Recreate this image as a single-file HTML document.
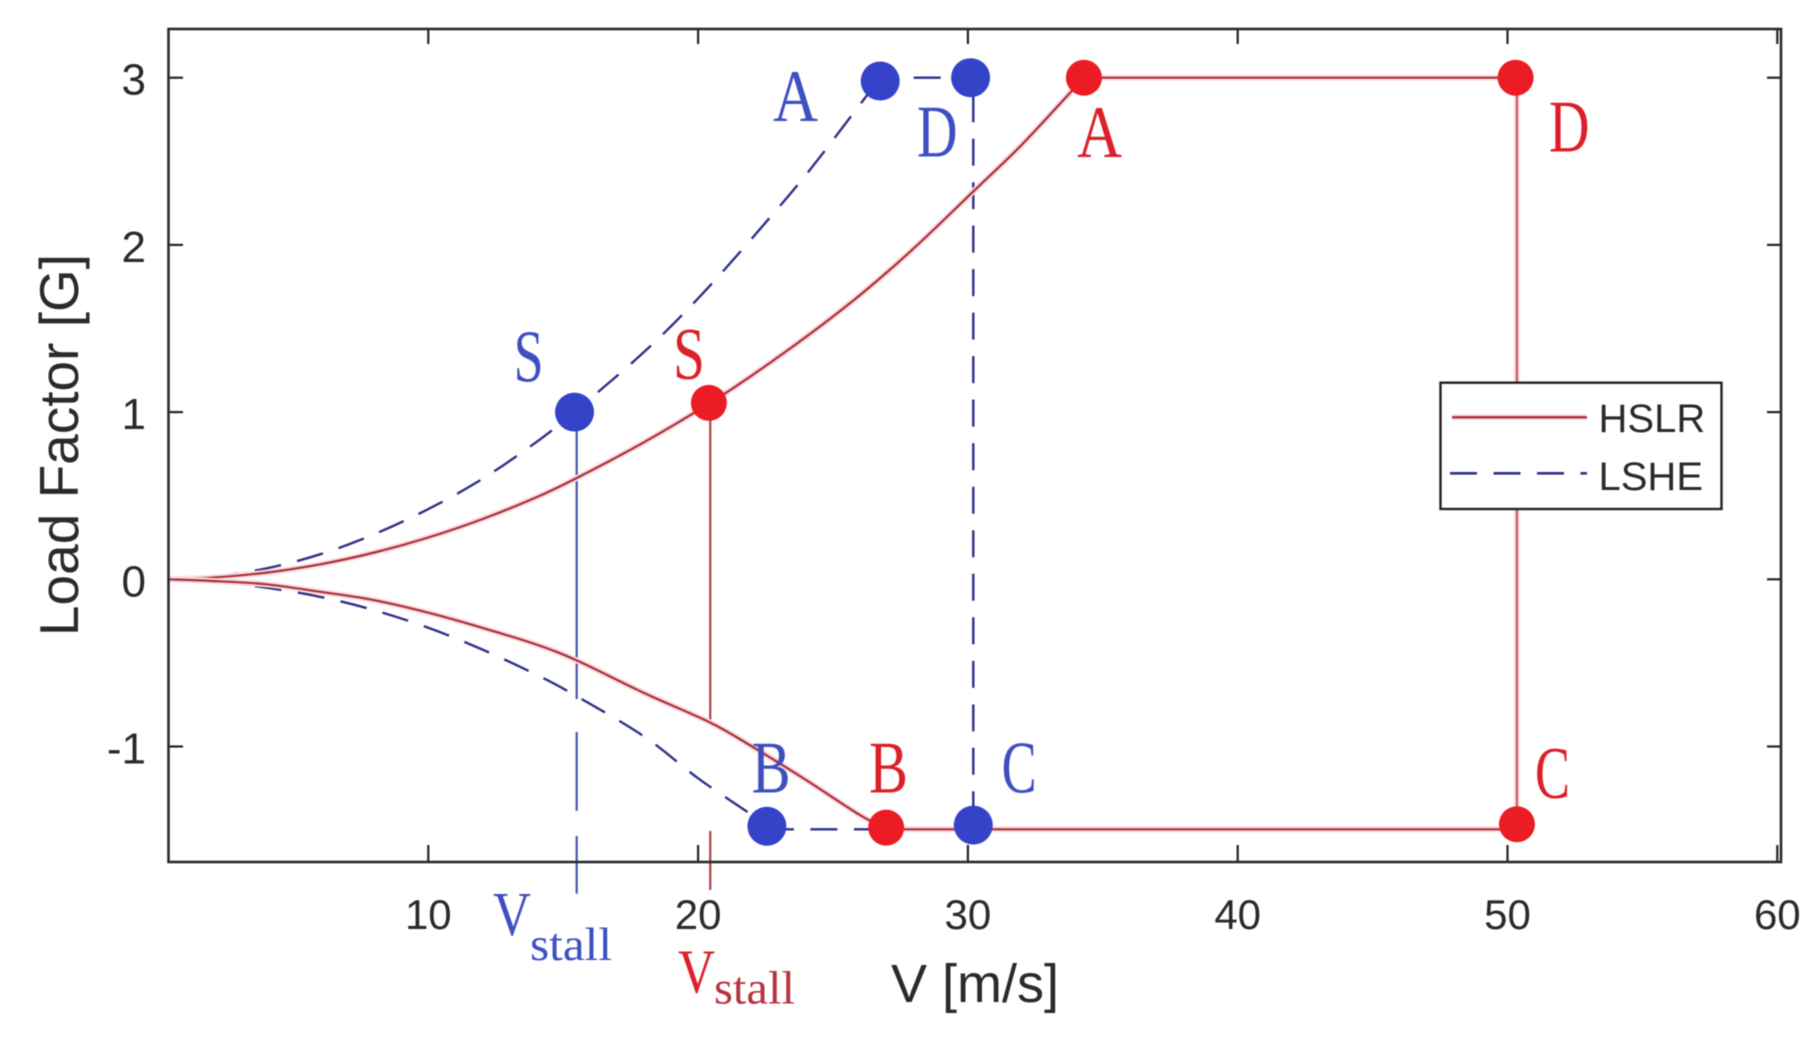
<!DOCTYPE html>
<html lang="en">
<head>
<meta charset="utf-8">
<title>Load Factor vs Velocity: V-n Diagram</title>
<style>
  html, body { margin: 0; padding: 0; background: #fff; }
  body { width: 1819px; height: 1044px; overflow: hidden; }
  svg { display: block; filter: blur(0.55px); }
  text { font-family: "Liberation Sans", sans-serif; fill: #2a2a2a; }
  .note { font-family: "Liberation Serif", serif; }
  .bl { fill: #3f4fc0; }
  .rd { fill: #dc2029; }
  .halo { fill: none; stroke: #fbdcdc; stroke-width: 6; stroke-linejoin: round; }
  .red-line { fill: none; stroke: #a8303c; stroke-width: 2.2; stroke-linejoin: round; }
  .red-side { fill: none; stroke: #c8505a; stroke-width: 2; }
  .blue-line { fill: none; stroke: #2e3088; stroke-width: 2.4; stroke-dasharray: 27 16.5; }
  .axis-tick { stroke: #222; stroke-width: 2.2; }
</style>
</head>
<body>
<svg id="chart" width="1819" height="1044" viewBox="0 0 1819 1044" xmlns="http://www.w3.org/2000/svg">
  <rect x="0" y="0" width="1819" height="1044" fill="#fff"/>
  <g id="ticks"></g>
  <g id="series"></g>
  <rect x="168.5" y="29" width="1612.5" height="833" fill="none" stroke="#2a2a2a" stroke-width="2.6"/>
  <g id="markers"></g>
  <g id="tick-labels"></g>

  <text x="78" y="445" font-size="55" text-anchor="middle" transform="rotate(-90 78 445)">Load Factor [G]</text>
  <text x="891" y="1002" font-size="54">V [m/s]</text>

  <g font-size="74">
    <text class="note bl" x="773" y="121" textLength="45" lengthAdjust="spacingAndGlyphs">A</text>
    <text class="note bl" x="513.6" y="381.7" textLength="30" lengthAdjust="spacingAndGlyphs">S</text>
    <text class="note rd" x="673" y="379" textLength="32" lengthAdjust="spacingAndGlyphs">S</text>
    <text class="note bl" x="917" y="156.7" textLength="40.5" lengthAdjust="spacingAndGlyphs">D</text>
    <text class="note rd" x="1077" y="157" textLength="45" lengthAdjust="spacingAndGlyphs">A</text>
    <text class="note rd" x="1549" y="151.7" textLength="40.5" lengthAdjust="spacingAndGlyphs">D</text>
    <text class="note bl" x="751.6" y="792.7" textLength="39" lengthAdjust="spacingAndGlyphs">B</text>
    <text class="note rd" x="869" y="792.7" textLength="39" lengthAdjust="spacingAndGlyphs">B</text>
    <text class="note bl" x="1001.6" y="792.7" textLength="35" lengthAdjust="spacingAndGlyphs">C</text>
    <text class="note rd" x="1535" y="798" textLength="35" lengthAdjust="spacingAndGlyphs">C</text>
  </g>

  <g>
    <text class="note bl" x="493" y="935" font-size="62" textLength="38" lengthAdjust="spacingAndGlyphs">V</text>
    <text class="note bl" x="530" y="960" font-size="47" textLength="82" lengthAdjust="spacingAndGlyphs">stall</text>
  </g>
  <g>
    <text class="note rd" x="678" y="992.7" font-size="62" textLength="37" lengthAdjust="spacingAndGlyphs">V</text>
    <text class="note" style="fill:#b5343f" x="714" y="1003.7" font-size="47" textLength="81" lengthAdjust="spacingAndGlyphs">stall</text>
  </g>

  <g>
    <rect x="1440.5" y="382.7" width="281" height="126.3" fill="#fff" stroke="#222" stroke-width="2.4"/>
    <line x1="1452" y1="417.3" x2="1587" y2="417.3" stroke="#fbdcdc" stroke-width="6"/>
    <line x1="1452" y1="417.3" x2="1587" y2="417.3" stroke="#a8303c" stroke-width="2.4"/>
    <line x1="1450" y1="473.3" x2="1587" y2="473.3" stroke="#2e3088" stroke-width="2.6" stroke-dasharray="27 16.5"/>
    <text x="1598.5" y="432" font-size="40">HSLR</text>
    <text x="1598.5" y="490" font-size="40">LSHE</text>
  </g>
</svg>
<script>
// Axis tick values
const xTickValues = [10, 20, 30, 40, 50, 60];
const yTickValues = [3, 2, 1, 0, -1];

// HSLR envelope
const hslrUpperV = [0.36, 2, 4, 6, 8, 10, 12, 14, 15.5, 18, 20.4, 22, 24, 26, 28, 30.2, 32, 34.3];
const hslrUpperG = [0, 0.01, 0.04, 0.09, 0.16, 0.25, 0.36, 0.49, 0.606, 0.82, 1.05, 1.22, 1.45, 1.70, 1.98, 2.32, 2.60, 3.0];
const hslrLowerV = [0.36, 2, 4, 6, 8, 10, 12, 14, 15.5, 18, 20.4, 22, 24, 26, 26.97];
const hslrLowerG = [0, -0.01, -0.03, -0.075, -0.125, -0.2, -0.29, -0.39, -0.485, -0.68, -0.853, -1.0, -1.2, -1.41, -1.49];
const hslrTopV = [34.3, 50.35];
const hslrTopG = [3.0, 3.0];
const hslrSideV = [50.35, 50.35];
const hslrSideG = [3.0, -1.495];
const hslrBaseV = [26.97, 50.35];
const hslrBaseG = [-1.495, -1.495];

// LSHE envelope
const lsheUpperV = [0.36, 2, 4, 6, 8, 10, 12, 14, 15.4, 18, 20, 22, 24, 26, 26.75];
const lsheUpperG = [0, 0.015, 0.065, 0.15, 0.27, 0.42, 0.6, 0.82, 1.0, 1.36, 1.68, 2.04, 2.42, 2.84, 3.0];
const lsheTopV = [26.75, 30.2];
const lsheTopG = [3.0, 3.0];
const lsheSideV = [30.2, 30.2];
const lsheSideG = [3.0, -1.47];
const lsheLowerV = [0.36, 2, 4, 6, 8, 10, 12, 14, 15.4, 18, 20, 22, 22.55];
const lsheLowerG = [0, -0.01, -0.05, -0.105, -0.185, -0.29, -0.42, -0.57, -0.69, -0.94, -1.19, -1.41, -1.477];
const lsheBaseV = [22.55, 30.2];
const lsheBaseG = [-1.495, -1.495];

// Marker points (S, A, D, C, B)
const hslrPointV = [20.4, 34.3, 50.3, 50.35, 26.97];
const hslrPointG = [1.055, 3.0, 3.0, -1.465, -1.485];
const lshePointV = [15.42, 26.75, 30.1, 30.2, 22.55];
const lshePointG = [1.0, 2.98, 3.0, -1.47, -1.477];

// Stall-speed droplines: V value and the G start/end of each visible segment
const hslrStallV = 20.45;
const hslrStallStart = [1.055, -1.505];
const hslrStallEnd = [-0.853, -1.858];
const lsheStallV = 15.5;
const lsheStallStart = [1.0, -0.913, -1.535];
const lsheStallEnd = [-0.716, -1.385, -1.88];

const SVG_NS = 'http://www.w3.org/2000/svg';
function xPos(v) { return 428.3 + (v - 10) * 26.98; }
function yPos(g) { return 579.3 - g * 167.2; }
function make(tag, parentId) {
  const el = document.createElementNS(SVG_NS, tag);
  document.getElementById(parentId).appendChild(el);
  return el;
}
// Catmull-Rom smoothing through the data points, so curves have no kinks
function pathFrom(vs, gs) {
  const pts = vs.map(function (v, i) { return [xPos(v), yPos(gs[i])]; });
  let d = 'M' + pts[0][0].toFixed(1) + ' ' + pts[0][1].toFixed(1);
  for (let i = 0; i < pts.length - 1; i++) {
    const p0 = pts[Math.max(i - 1, 0)];
    const p1 = pts[i];
    const p2 = pts[i + 1];
    const p3 = pts[Math.min(i + 2, pts.length - 1)];
    const c1x = p1[0] + (p2[0] - p0[0]) / 6;
    const c1y = p1[1] + (p2[1] - p0[1]) / 6;
    const c2x = p2[0] - (p3[0] - p1[0]) / 6;
    const c2y = p2[1] - (p3[1] - p1[1]) / 6;
    d += ' C' + c1x.toFixed(1) + ' ' + c1y.toFixed(1) + ' ' + c2x.toFixed(1) + ' ' + c2y.toFixed(1) + ' ' + p2[0].toFixed(1) + ' ' + p2[1].toFixed(1);
  }
  return d;
}
function drawRed(vs, gs, name, lineClass) {
  const halo = make('path', 'series');
  halo.setAttribute('d', pathFrom(vs, gs));
  halo.setAttribute('class', 'halo');
  
  
  const line = make('path', 'series');
  line.setAttribute('d', pathFrom(vs, gs));
  line.setAttribute('class', lineClass);
  
  
}
function drawBlue(vs, gs, name, offset) {
  const line = make('path', 'series');
  line.setAttribute('d', pathFrom(vs, gs));
  line.setAttribute('class', 'blue-line');
  line.setAttribute('stroke-dashoffset', offset);
  
  
}
function drawDrop(v, starts, ends, color, name) {
  starts.forEach(function (g0, i) {
    const seg = make('line', 'series');
    seg.setAttribute('x1', xPos(v));
    seg.setAttribute('x2', xPos(v));
    seg.setAttribute('y1', yPos(g0));
    seg.setAttribute('y2', yPos(ends[i]));
    seg.setAttribute('stroke', color);
    seg.setAttribute('stroke-width', '2.2');
    
    
  });
}
function drawMarkers(vs, gs, r, color, name) {
  vs.forEach(function (v, i) {
    const dot = make('circle', 'markers');
    dot.setAttribute('cx', xPos(v));
    dot.setAttribute('cy', yPos(gs[i]));
    dot.setAttribute('r', r);
    dot.setAttribute('fill', color);
    
    
  });
}

// Ticks and tick labels
xTickValues.forEach(function (t) {
  const bottomTick = make('line', 'ticks');
  bottomTick.setAttribute('x1', xPos(t));
  bottomTick.setAttribute('x2', xPos(t));
  bottomTick.setAttribute('y1', 862);
  bottomTick.setAttribute('y2', 845);
  bottomTick.setAttribute('class', 'axis-tick');
  
  
  const topTick = make('line', 'ticks');
  topTick.setAttribute('x1', xPos(t));
  topTick.setAttribute('x2', xPos(t));
  topTick.setAttribute('y1', 29);
  topTick.setAttribute('y2', 44);
  topTick.setAttribute('class', 'axis-tick');
  
  
  const label = make('text', 'tick-labels');
  label.textContent = String(t);
  label.setAttribute('x', xPos(t));
  label.setAttribute('y', 929);
  label.setAttribute('font-size', '42');
  label.setAttribute('text-anchor', 'middle');
  
  
});
yTickValues.forEach(function (t) {
  const leftTick = make('line', 'ticks');
  leftTick.setAttribute('x1', 168.5);
  leftTick.setAttribute('x2', 183);
  leftTick.setAttribute('y1', yPos(t));
  leftTick.setAttribute('y2', yPos(t));
  leftTick.setAttribute('class', 'axis-tick');
  
  
  const rightTick = make('line', 'ticks');
  rightTick.setAttribute('x1', 1781);
  rightTick.setAttribute('x2', 1767);
  rightTick.setAttribute('y1', yPos(t));
  rightTick.setAttribute('y2', yPos(t));
  rightTick.setAttribute('class', 'axis-tick');
  
  
  const label = make('text', 'tick-labels');
  label.textContent = String(t);
  label.setAttribute('x', 146);
  label.setAttribute('y', yPos(t) + 17);
  label.setAttribute('font-size', '44');
  label.setAttribute('text-anchor', 'end');
  
  
});

// Series
drawDrop(lsheStallV, lsheStallStart, lsheStallEnd, '#4a55a8', 'lshe-stall-dropline');
drawDrop(hslrStallV, hslrStallStart, hslrStallEnd, '#a8404a', 'hslr-stall-dropline');
drawBlue(lsheUpperV, lsheUpperG, 'lshe-upper-curve', 0);
drawBlue(lsheTopV, lsheTopG, 'lshe-top-line', 10);
drawBlue(lsheLowerV, lsheLowerG, 'lshe-lower-curve', 0);
drawBlue(lsheSideV, lsheSideG, 'lshe-side-line', 26);
drawBlue(lsheBaseV, lsheBaseG, 'lshe-base-line', 0);
drawRed(hslrUpperV, hslrUpperG, 'hslr-upper-curve', 'red-line');
drawRed(hslrLowerV, hslrLowerG, 'hslr-lower-curve', 'red-line');
drawRed(hslrTopV, hslrTopG, 'hslr-top-line', 'red-line');
drawRed(hslrSideV, hslrSideG, 'hslr-side-line', 'red-side');
drawRed(hslrBaseV, hslrBaseG, 'hslr-base-line', 'red-line');
drawMarkers(lshePointV, lshePointG, 19.5, '#3443c8', 'lshe-point');
drawMarkers(hslrPointV, hslrPointG, 18, '#ec1c24', 'hslr-point');
</script>
</body>
</html>
